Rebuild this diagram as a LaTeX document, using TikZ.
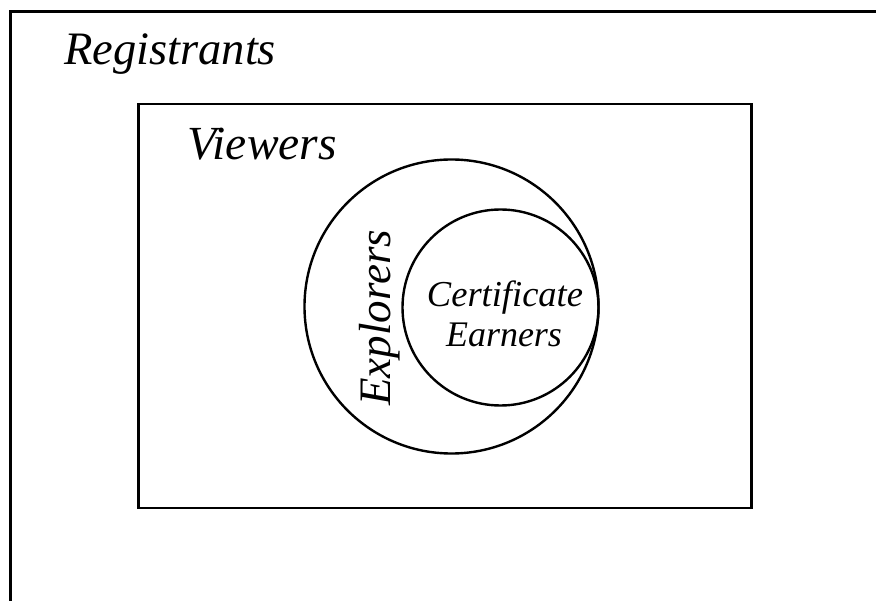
\documentclass[tikz,border=0pt]{standalone}
\usepackage{fontspec}
\setmainfont{Liberation Serif}
\begin{document}
\begin{tikzpicture}[x=1pt,y=-1pt,
  line/.style={line width=2.4pt,draw=black},
  lbl/.style={inner sep=0pt,font=\itshape},
  every node/.style={inner sep=0pt}]
\useasboundingbox (0,0) rectangle (876,601);
\clip (0,0) rectangle (876,601);
% outer box (Registrants), extends past the right and bottom edges
\draw[line] (10.5,640) -- (10.5,11.5) -- (900,11.5);
% inner box (Viewers)
\draw[line] (138.5,104) rectangle (751.5,508);
% circles
\node[line,circle,minimum size=294pt] (explorers) at (451.5,306.5) {};
\node[line,circle,minimum size=196pt] (earners) at (500.5,307.5) {};
% labels
\node[lbl,anchor=base west,font=\itshape\fontsize{46.5}{50}\selectfont] (reg) at (64,65) {Registrants};
\node[lbl,anchor=base west,font=\itshape\fontsize{47.5}{50}\selectfont] (view) at (187,160) {Viewers};
\node[lbl,anchor=base west,rotate=90,font=\itshape\fontsize{45}{50}\selectfont] (expl) at (390,406) {Explorers};
\node[lbl,anchor=base,font=\itshape\fontsize{36.5}{40}\selectfont] (cert) at (505,307) {Certificate};
\node[lbl,anchor=base,font=\itshape\fontsize{36}{40}\selectfont] (earn) at (504,347) {Earners};
\end{tikzpicture}
\end{document}
